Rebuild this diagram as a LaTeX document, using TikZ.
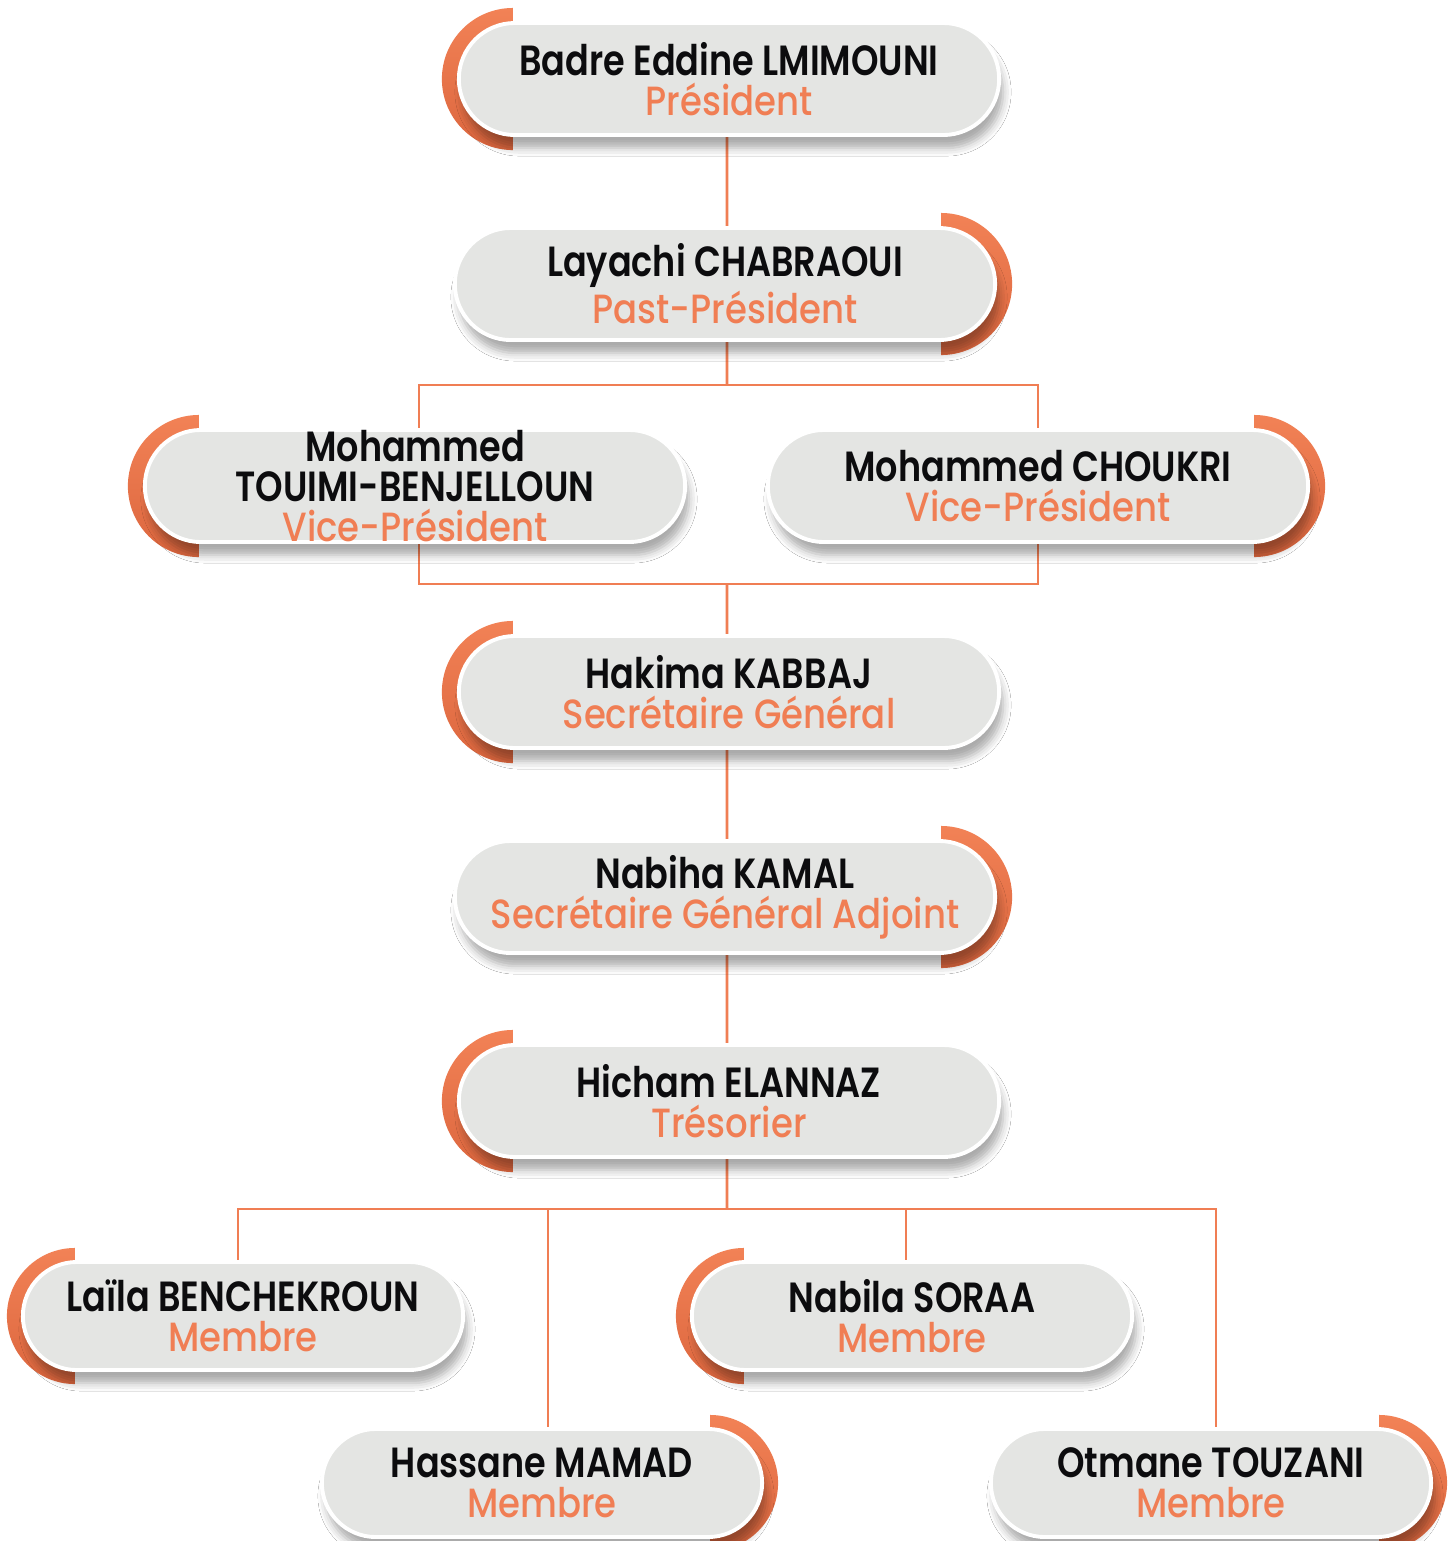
\documentclass[tikz,border=0pt]{standalone}
\usepackage{fontspec}
\setmainfont{Poppins}
\newfontfamily\namefont{Poppins SemiBold}[FakeStretch=0.83]
\newfontfamily\rolefont{Poppins Medium}[FakeStretch=0.87]
\usetikzlibrary{shapes.misc,calc,shadows.blur}
\definecolor{org}{RGB}{240,126,84}
\definecolor{arcTop}{RGB}{242,130,86}
\definecolor{arcBot}{RGB}{220,102,62}
\definecolor{pillFill}{RGB}{228,229,227}
\definecolor{ink}{RGB}{12,12,14}
\pgfdeclarelayer{bg}
\pgfsetlayers{bg,main}
\newcommand\role[1]{{\rolefont\fontsize{11.6}{11.4}\selectfont\color{org}#1}}
% left arc: node, pill radius, outer radius
\newcommand\larc[3]{\shade[top color=arcTop,bottom color=arcBot] ($(#1.west)+(#2,0)$) ++(0,#3) arc[start angle=90,end angle=270,radius=#3] -- cycle;}
\newcommand\rarc[3]{\shade[top color=arcTop,bottom color=arcBot] ($(#1.east)+(-#2,0)$) ++(0,#3) arc[start angle=90,end angle=-90,radius=#3] -- cycle;}
\begin{document}
\begin{tikzpicture}[x=0.01cm,y=-0.01cm,
  pill/.style={rounded rectangle, fill=pillFill, draw=white, line width=1.1pt,
    minimum width=5.4cm, minimum height=1.12cm, inner sep=0pt, align=center,
    text=ink, font=\namefont\fontsize{12}{11.4}\selectfont,
    blur shadow={shadow xshift=0.04cm, shadow yshift=-0.13cm, shadow blur radius=0.08cm, shadow opacity=33}},
  smallpill/.style={pill, minimum width=4.4cm, minimum height=1.08cm},
  conn/.style={draw=org, line width=0.8pt}]
\useasboundingbox (0,0) rectangle (1454,1541);

\node[pill] (pres) at (729,79) {Badre Eddine LMIMOUNI\\\role{Président}};
\node[pill] (past) at (725,284) {Layachi CHABRAOUI\\\role{Past-Président}};
\node[pill] (vp1) at (415,486) {Mohammed\\TOUIMI-BENJELLOUN\\\role{Vice-Président}};
\node[pill] (vp2) at (1038,486) {Mohammed CHOUKRI\\\role{Vice-Président}};
\node[pill] (kab) at (729,692) {Hakima KABBAJ\\\role{Secrétaire Général}};
\node[pill] (kam) at (725,897) {Nabiha KAMAL\\\role{Secrétaire Général Adjoint}};
\node[pill] (ela) at (729,1101) {Hicham ELANNAZ\\\role{Trésorier}};
\node[smallpill] (lai) at (243,1316) {Laïla BENCHEKROUN\\\role{Membre}};
\node[smallpill] (sor) at (912,1316) {Nabila SORAA\\\role{Membre}};
\node[smallpill] (mam) at (542,1483) {Hassane MAMAD\\\role{Membre}};
\node[smallpill] (tou) at (1211,1483) {Otmane TOUZANI\\\role{Membre}};

\coordinate (b1) at (727,385);
\coordinate (b2) at (727,584);
\coordinate (b3) at (727,1209);

\begin{pgfonlayer}{bg}
\fill[white] (0,0) rectangle (1454,1541);
\draw[conn] ([xshift=-0.02cm]pres.south) -- ([xshift=0.02cm]past.north);
\draw[conn] ([xshift=0.02cm]past.south) -- (b1);
\draw[conn] (b1) -| ([xshift=0.04cm]vp1.north);
\draw[conn] (b1) -| (vp2.north);
\draw[conn] ([xshift=0.04cm]vp1.south) |- (b2);
\draw[conn] (vp2.south) |- (b2);
\draw[conn] (b2) -- ([xshift=-0.02cm]kab.north);
\draw[conn] ([xshift=-0.02cm]kab.south) -- ([xshift=0.02cm]kam.north);
\draw[conn] ([xshift=0.02cm]kam.south) -- ([xshift=-0.02cm]ela.north);
\draw[conn] ([xshift=-0.02cm]ela.south) -- (b3);
\draw[conn] (b3) -| ([xshift=-0.05cm]lai.north);
\draw[conn] (b3) -| ([xshift=0.06cm]mam.north);
\draw[conn] (b3) -| ([xshift=-0.06cm]sor.north);
\draw[conn] (b3) -| ([xshift=0.05cm]tou.north);
\larc{pres}{0.56cm}{0.71cm}
\rarc{past}{0.56cm}{0.71cm}
\larc{vp1}{0.56cm}{0.71cm}
\rarc{vp2}{0.56cm}{0.71cm}
\larc{kab}{0.56cm}{0.71cm}
\rarc{kam}{0.56cm}{0.71cm}
\larc{ela}{0.56cm}{0.71cm}
\larc{lai}{0.54cm}{0.68cm}
\larc{sor}{0.54cm}{0.68cm}
\rarc{mam}{0.54cm}{0.68cm}
\rarc{tou}{0.54cm}{0.68cm}
\end{pgfonlayer}
\end{tikzpicture}
\end{document}
